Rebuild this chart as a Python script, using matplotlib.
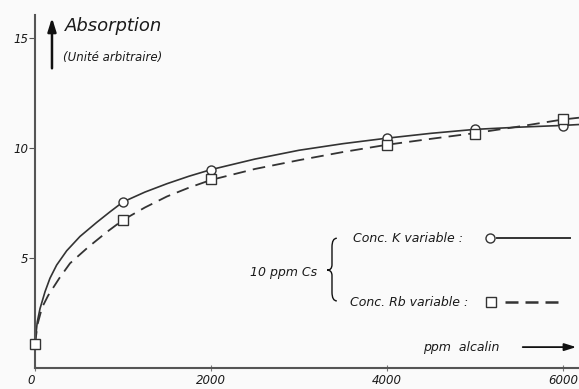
import matplotlib.pyplot as plt
from matplotlib.path import Path
from matplotlib.patches import PathPatch

plt.rcParams['font.family'] = ['DejaVu Sans']
plt.rcParams['font.style'] = 'oblique'

# measured points (ppm alcalin, absorption)
conc_k = [0, 1000, 2000, 4000, 5000, 6000]
abs_k = [1.1, 7.55, 9.0, 10.45, 10.85, 11.0]
conc_rb = [0, 1000, 2000, 4000, 5000, 6000]
abs_rb = [1.1, 6.73, 8.6, 10.15, 10.65, 11.3]

# hand drawn curves
curve_k_x = [0, 10, 26, 57, 114, 170, 246, 360, 511, 701, 852, 1000, 1250, 1500, 1750,
             2000, 2500, 3000, 3500, 4000, 4500, 5000, 5500, 6000, 6182]
curve_k_y = [1.1, 1.5, 2.1, 2.7, 3.47, 4.08, 4.68, 5.33, 5.98, 6.62, 7.1, 7.55, 8.0, 8.38, 8.72,
             9.02, 9.5, 9.9, 10.2, 10.45, 10.67, 10.85, 10.95, 11.03, 11.07]
curve_rb_x = [0, 30, 80, 150, 276, 398, 606, 822, 1000, 1250, 1500, 1750,
              2000, 2500, 3000, 3500, 4000, 4500, 5000, 5500, 6000, 6182]
curve_rb_y = [1.1, 2.0, 2.75, 3.3, 4.08, 4.76, 5.5, 6.2, 6.73, 7.3, 7.8, 8.2,
              8.55, 9.05, 9.45, 9.82, 10.15, 10.42, 10.68, 10.98, 11.3, 11.38]

xticks = [0, 2000, 4000, 6000]
yticks = [5, 10, 15]

ink = '#333333'
txt = '#1a1a1a'
bg = '#fafafa'

fig = plt.figure(figsize=(5.79, 3.89), dpi=100, facecolor=bg)
ax = fig.add_axes([35 / 579, 1 - 368 / 389, 1 - 35 / 579, (368 - 15) / 389])
ax.set_facecolor(bg)
ax.set_xlim(0, 6182)
ax.set_ylim(0, 16.05)

ax.plot(curve_k_x, curve_k_y, color=ink, lw=1.2, clip_on=False)
ax.plot(curve_rb_x, curve_rb_y, color=ink, lw=1.3, dashes=(7, 4), clip_on=False)
ax.plot(conc_k, abs_k, 'o', ms=6.5, mfc='white', mec=ink, mew=1.0, clip_on=False, zorder=3)
ax.plot(conc_rb, abs_rb, 's', ms=7, mfc='white', mec=ink, mew=1.0, clip_on=False, zorder=4)

for s in ['top', 'right']:
    ax.spines[s].set_visible(False)
for s in ['left', 'bottom']:
    ax.spines[s].set_color('#555555')
    ax.spines[s].set_linewidth(1.5)

ax.set_yticks(yticks)
ax.set_yticklabels([str(v) for v in yticks], fontsize=8.5, color=txt)
ax.set_xticks(xticks)
ax.set_xticklabels([str(v) for v in xticks], fontsize=8.5, color=txt)
ax.get_xticklabels()[0].set_horizontalalignment('right')
ax.tick_params(axis='y', direction='out', length=4, width=0.8, color='#555555', pad=1)
ax.tick_params(axis='x', direction='inout', length=5, width=0.8, color='#777777', pad=1.5)

# axis titles with arrows
ax.annotate('', xy=(193, 16.05), xytext=(193, 13.5), annotation_clip=False,
            arrowprops=dict(arrowstyle='-|>,head_length=0.8,head_width=0.25', color='#111111', lw=1.8))
ax.text(341, 15.55, 'Absorption', fontsize=13, color=txt, va='center')
ax.text(318, 14.1, '(Unité arbitraire)', fontsize=8.5, color=txt, va='center')

ax.text(4410, 0.95, 'ppm  alcalin', fontsize=9, color=txt, va='center')
ax.annotate('', xy=(6182, 0.95), xytext=(5511, 0.95), annotation_clip=False,
            arrowprops=dict(arrowstyle='-|>,head_length=0.7,head_width=0.22', color='#111111', lw=1.3))

# legend, hand lettered
ax.text(3614, 5.9, 'Conc. K variable :', fontsize=9, color=txt, va='center')
ax.plot([5170], [5.9], 'o', ms=6.5, mfc='white', mec=ink, mew=1.0)
ax.plot([5250, 6080], [5.9, 5.9], color=ink, lw=1.4)
ax.text(3580, 3.0, 'Conc. Rb variable :', fontsize=9, color=txt, va='center')
ax.plot([5180], [3.0], 's', ms=7, mfc='white', mec=ink, mew=1.0)
ax.plot([5341, 6023], [3.0, 3.0], color=ink, lw=1.8, dashes=(5.2, 2.8))
ax.text(2443, 4.35, '10 ppm Cs', fontsize=9, color=txt, va='center')

# curly brace
bx, bt, bb, bm = 3375, 5.9, 3.05, 4.45
w = 55
verts = [(bx + w, bt), (bx, bt), (bx, bt - 0.4),
         (bx, bm + 0.25), (bx, bm), (bx - w, bm),
         (bx, bm), (bx, bm - 0.25),
         (bx, bb + 0.4), (bx, bb), (bx + w, bb)]
codes = [Path.MOVETO, Path.CURVE3, Path.CURVE3,
         Path.LINETO, Path.CURVE3, Path.CURVE3,
         Path.CURVE3, Path.CURVE3,
         Path.LINETO, Path.CURVE3, Path.CURVE3]
ax.add_patch(PathPatch(Path(verts, codes), fill=False, ec='#111111', lw=1.0))

fig.savefig('out.png', dpi=100, facecolor=bg)
